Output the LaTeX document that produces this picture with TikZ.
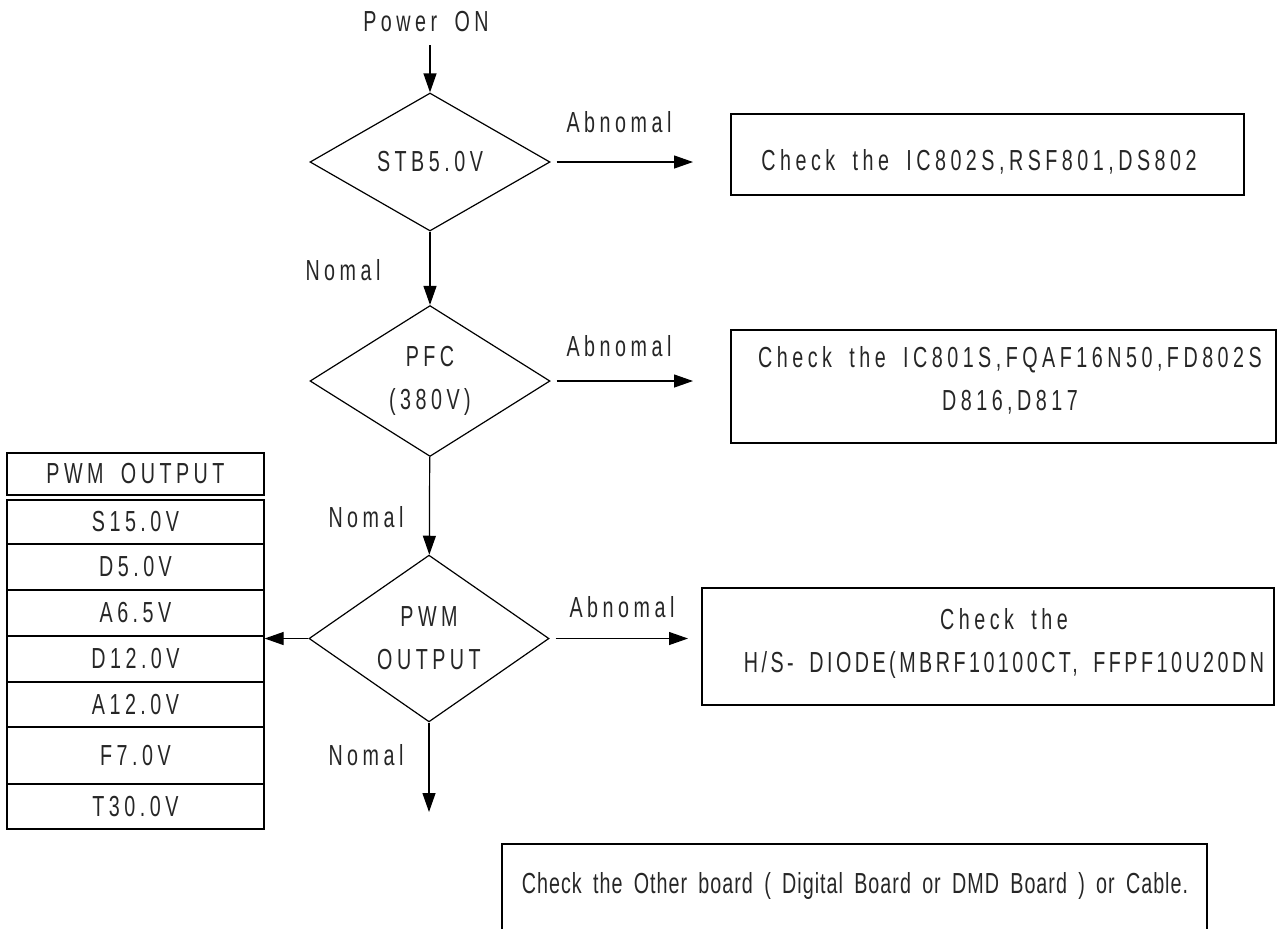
\documentclass[tikz,border=0pt]{standalone}
\usepackage{fontspec}
\setmainfont{Liberation Sans}[FakeStretch=0.68,LetterSpace=15.5,WordSpace=1.74]
\usepackage{tikz}
\usetikzlibrary{shapes.geometric,arrows.meta}

\tikzset{
	decision/.style={diamond, draw, line width=0.6pt, minimum width=120pt, minimum height=69pt, inner sep=0pt, align=center},
	chkbox/.style={draw, line width=0.9pt, inner sep=0pt},
	cell/.style={draw, line width=0.6pt, minimum width=128.5pt, inner sep=0pt},
	arr/.style={-{Triangle[length=9.5pt,width=6.5pt]}, line width=0.6pt}
}

\begin{document}
\begin{tikzpicture}[x=0.5pt,y=-0.5pt,font=\fontsize{14.5}{21.5}\selectfont,text=black!85]

	\useasboundingbox (0,0) rectangle (1279,928);

	% decisions
	\node (pwr) at (426,22) {Power ON};
	\node[decision] (stb) at (430,162) {STB5.0V};
	\node[decision] (pfc) at (430,381) {PFC\\(380V)};
	\node[decision] (pwm) at (429,638.5) {PWM\\OUTPUT};

	% check boxes
	\node[chkbox, minimum width=256.5pt, minimum height=40.5pt] (chk1) at (987.5,154.5) {};
	\node (chk1txt) at (979,162) {Check the IC802S,RSF801,DS802};
	\node[chkbox, minimum width=272.5pt, minimum height=56.5pt] (chk2) at (1003.5,386.5) {};
	\node[align=center] (chk2txt) at (1010,380) {Check the IC801S,FQAF16N50,FD802S\\D816,D817};
	\node[chkbox, minimum width=286pt, minimum height=58.5pt] (chk3) at (988,646.5) {};
	\node[align=center] (chk3txt) at (1004,643) {Check the\\{\addfontfeature{LetterSpace=12}H/S- DIODE(MBRF10100CT, FFPF10U20DN}};
	\node[chkbox, minimum width=352.5pt, minimum height=48pt] (chk4) at (854.5,892) {};
	\node[font=\fontsize{14.5}{21.5}\selectfont\addfontfeature{LetterSpace=3.5}] (chk4txt) at (855,886) {Check the Other board ( Digital Board or DMD Board ) or Cable.};

	% output table
	\node[cell, minimum height=21pt] (hdr) at (135.5,474) {PWM OUTPUT};
	\node[cell, minimum height=22pt] (s15) at (135.5,522) {S15.0V};
	\node[cell, minimum height=23pt] (d5) at (135.5,567) {D5.0V};
	\node[cell, minimum height=23pt] (a65) at (135.5,613) {A6.5V};
	\node[cell, minimum height=23pt] (d12) at (135.5,659) {D12.0V};
	\node[cell, minimum height=22.5pt] (a12) at (135.5,704.5) {A12.0V};
	\node[cell, minimum height=28.5pt] (f7) at (135.5,755.5) {F7.0V};
	\node[cell, minimum height=22.5pt] (t30) at (135.5,806.5) {T30.0V};

	% branch labels
	\node (ab1) at (619,122) {Abnomal};
	\node (ab2) at (619,346) {Abnomal};
	\node (ab3) at (622,607) {Abnomal};
	\node (no1) at (343,270) {Nomal};
	\node (no2) at (366,517) {Nomal};
	\node (no3) at (366,755) {Nomal};

	\coordinate (e1) at (693,162);
	\coordinate (e2) at (693,381);
	\coordinate (e3) at (688,638.5);
	\coordinate (e4) at (429,812);

	\draw[arr, shorten <=3pt] (pwr.south -| stb.north) -- (stb.north);
	\draw[arr] (stb) -- (pfc);
	\draw[arr] (pfc) -- (pwm);
	\draw[arr] (pwm) -- (e4);
	\draw[arr, shorten <=3pt] (stb) -- (e1);
	\draw[arr, shorten <=3pt] (pfc) -- (e2);
	\draw[arr, shorten <=3pt] (pwm) -- (e3);
	\draw[arr] (pwm) -- (pwm -| d12.east);

\end{tikzpicture}
\end{document}
